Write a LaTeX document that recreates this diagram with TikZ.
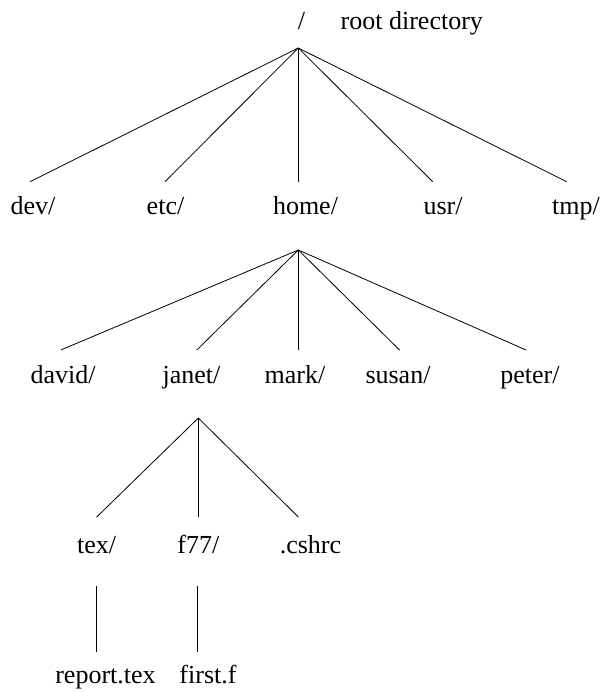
\documentclass[tikz,border=0pt]{standalone}
\usepackage{fontspec}
\setmainfont{Liberation Serif}
\begin{document}
\begin{tikzpicture}[x=1pt,y=-1pt,
  entry/.style={anchor=base,inner sep=0pt,font=\fontsize{26}{30}\selectfont},
  branch/.style={line width=0.8pt}]
\useasboundingbox (0,0) rectangle (600,692);

% labels (placed on their baselines)
\node[entry] (root)   at (301.5,30) {/};
\node[entry,anchor=base west] (rootlbl) at (340.5,30) {root directory};

\node[entry] (dev)  at (33,215)  {dev/};
\node[entry] (etc)  at (165.5,215) {etc/};
\node[entry] (home) at (305.5,215) {home/};
\node[entry] (usr)  at (443,215) {usr/};
\node[entry] (tmp)  at (576,215) {tmp/};

\node[entry] (david) at (63,383)  {david/};
\node[entry] (janet) at (191.5,383) {janet/};
\node[entry] (mark)  at (295,383) {mark/};
\node[entry] (susan) at (398,383) {susan/};
\node[entry] (peter) at (530,383) {peter/};

\node[entry] (tex)   at (96.7,553) {tex/};
\node[entry] (f77)   at (198.3,553) {f77/};
\node[entry] (cshrc) at (310.5,553) {.cshrc};

\node[entry] (report) at (105.5,683) {report.tex};
\node[entry] (first)  at (208,683) {first.f};

% fork points and line ends
\coordinate (rootfork)  at (298.3,48);
\coordinate (homefork)  at (298.3,250);
\coordinate (janetfork) at (198.3,418);

\coordinate (devend)  at (30,181.7);
\coordinate (etcend)  at (165,181.7);
\coordinate (homeend) at (298.3,181.7);
\coordinate (usrend)  at (432.7,181.7);
\coordinate (tmpend)  at (566.7,181.7);

\coordinate (davidend) at (60.8,350);
\coordinate (janetend) at (196.8,350);
\coordinate (markend)  at (298.3,350);
\coordinate (susanend) at (399.5,350);
\coordinate (peterend) at (526,350);

\coordinate (texend)   at (96.7,517);
\coordinate (f77end)   at (198.3,517);
\coordinate (cshrcend) at (298.3,517);

\coordinate (textop)    at (96.7,585.5);
\coordinate (texbot)    at (96.7,652);
\coordinate (f77top)    at (197.7,585.5);
\coordinate (f77bot)    at (197.7,652);

% branches
\foreach \e in {devend,etcend,homeend,usrend,tmpend}
  \draw[branch] (rootfork) -- (\e);
\foreach \e in {davidend,janetend,markend,susanend,peterend}
  \draw[branch] (homefork) -- (\e);
\foreach \e in {texend,f77end,cshrcend}
  \draw[branch] (janetfork) -- (\e);
\draw[branch] (textop) -- (texbot);
\draw[branch] (f77top) -- (f77bot);
\end{tikzpicture}
\end{document}
